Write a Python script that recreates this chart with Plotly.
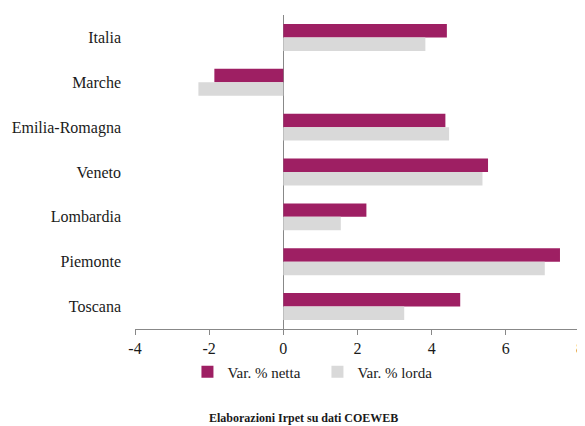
import plotly.graph_objects as go

regioni = ['Italia', 'Marche', 'Emilia-Romagna', 'Veneto', 'Lombardia', 'Piemonte', 'Toscana']
var_netta = [4.41, -1.86, 4.37, 5.52, 2.24, 7.46, 4.77]
var_lorda = [3.83, -2.29, 4.47, 5.37, 1.55, 7.05, 3.26]
x_ticks = [-4, -2, 0, 2, 4, 6, 8]
x_ticklabels = ['-4', '-2', '0', '2', '4', '6', '8']

SERIF = 'Liberation Serif'
TXT = '#1a1a1a'

fig = go.Figure()
fig.add_trace(go.Bar(name='Var. % netta', y=regioni, x=var_netta, orientation='h',
                     marker=dict(color='#9E1F63', line=dict(width=0))))
fig.add_trace(go.Bar(name='Var. % lorda', y=regioni, x=var_lorda, orientation='h',
                     marker=dict(color='#D9D9D9', line=dict(width=0))))

# page body has an 8px margin, so the figure is a bit smaller than the window
fig.update_layout(
    width=577, height=418,
    margin=dict(l=127, r=5, t=7, b=97),
    paper_bgcolor='white', plot_bgcolor='white',
    barmode='group', bargap=0.4, bargroupgap=0,
    font=dict(family=SERIF, size=16, color=TXT),
    showlegend=True,
    legend=dict(orientation='h', x=0.41, xanchor='center', y=-0.137, yanchor='middle',
                font=dict(family=SERIF, size=15, color=TXT), itemwidth=30,
                entrywidth=85, entrywidthmode='pixels',
                traceorder='normal', tracegroupgap=0),
    annotations=[dict(text='<b>Elaborazioni Irpet su dati COEWEB</b>', xref='paper', yref='paper',
                      x=0.379, y=-0.283, xanchor='center', yanchor='middle', showarrow=False,
                      font=dict(family=SERIF, size=12, color=TXT))],
)
fig.update_xaxes(range=[-4, 8], tickvals=x_ticks, ticktext=x_ticklabels, showgrid=False,
                 showline=True, linecolor='#888888', linewidth=1,
                 ticks='outside', ticklen=5, tickcolor='#888888',
                 zeroline=True, zerolinecolor='#888888', zerolinewidth=1,
                 ticklabeloverflow='allow',
                 tickfont=dict(family=SERIF, size=16, color=TXT), automargin=False)
fig.update_yaxes(autorange='reversed', showgrid=False, showline=False, ticks='',
                 ticklabelstandoff=13, automargin=False,
                 tickfont=dict(family=SERIF, size=16, color=TXT))

fig.write_html('out.html')
